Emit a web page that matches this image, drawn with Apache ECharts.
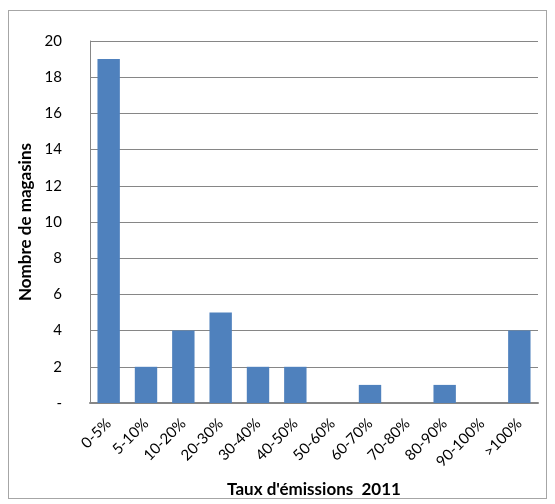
<!DOCTYPE html>
<html>
<head>
<meta charset="utf-8">
<script src="https://cdn.jsdelivr.net/npm/echarts@6/dist/echarts.min.js"></script>
<style>
  html, body { margin: 0; padding: 0; background: #fff; }
  #frame { position: absolute; left: 8px; top: 10px; width: 539px; height: 489px; border: 1px solid #a6a6a6; box-sizing: border-box; }
  #chart { position: absolute; left: 0; top: 0; width: 555px; height: 504px; }
</style>
</head>
<body>
<div id="frame"></div>
<div id="chart"></div>
<script>
// tranches de taux d'émissions
const categories = ['0-5%', '5-10%', '10-20%', '20-30%', '30-40%', '40-50%',
  '50-60%', '60-70%', '70-80%', '80-90%', '90-100%', '>100%'];
// nombre de magasins par tranche
const stores = [19, 2, 4, 5, 2, 2, 0, 1, 0, 1, 0, 4];
const yTicks = [0, 2, 4, 6, 8, 10, 12, 14, 16, 18, 20];

const font = 'Lato, "Liberation Sans", sans-serif';
const chart = echarts.init(document.getElementById('chart'));

const option = {
  animation: false,
  grid: {
    left: 90,
    right: 17,
    top: 41,
    bottom: 101
  },
  xAxis: {
    type: 'category',
    data: categories,
    name: "Taux d'émissions  2011",
    nameLocation: 'middle',
    nameGap: 78,
    nameTextStyle: { fontFamily: font, fontSize: 17, fontWeight: 'bold', color: '#000' },
    axisLine: { lineStyle: { color: '#868686', width: 2 } },
    axisTick: { show: false },
    axisLabel: {
      interval: 0,
      rotate: 45,
      margin: 18,
      fontFamily: font,
      fontSize: 15,
      color: '#000'
    }
  },
  yAxis: {
    type: 'value',
    min: yTicks[0],
    max: yTicks[yTicks.length - 1],
    interval: 2,
    name: 'Nombre de magasins',
    nameLocation: 'middle',
    nameGap: 53,
    nameTextStyle: { fontFamily: font, fontSize: 17, fontWeight: 'bold', color: '#000' },
    axisLine: { show: true, lineStyle: { color: '#868686', width: 1 } },
    axisTick: { show: false },
    splitLine: { lineStyle: { color: '#868686', width: 1 } },
    axisLabel: {
      margin: 28,
      fontFamily: font,
      fontSize: 15,
      color: '#000',
      formatter: function (v) { return v === 0 ? '-' : String(v); }
    }
  },
  series: [{
    type: 'bar',
    data: stores,
    barCategoryGap: '40%',
    itemStyle: { color: '#4f81bd' }
  }]
};

chart.setOption(option);
</script>
</body>
</html>
